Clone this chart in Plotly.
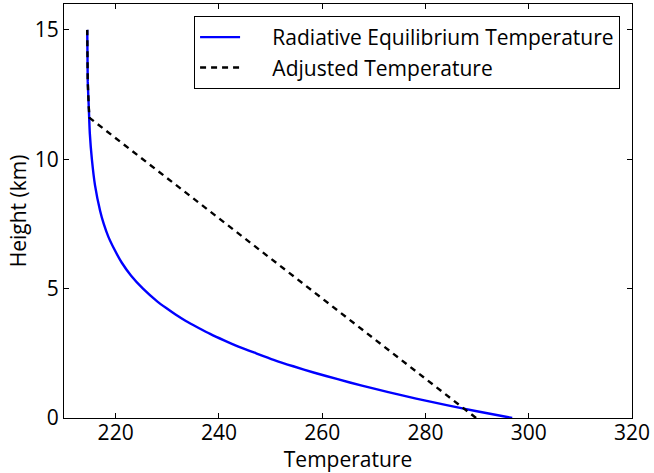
import plotly.graph_objects as go

# Radiative equilibrium profile
rad_height = [0, 0.25, 0.5, 0.75, 1.0, 1.25, 1.5, 1.75, 2.0, 2.25, 2.5, 2.75, 3.0, 3.25,
              3.5, 3.75, 4.0, 4.25, 4.5, 5.0, 5.5, 6.0, 6.5, 7.0, 7.5, 8.0, 9.0, 10.0,
              11.0, 12.0, 13.0, 14.0, 15.0]
rad_temp = [296.8, 290.2, 284.1, 278.2, 272.8, 267.7, 263.0, 258.5, 254.4, 250.6, 247.2,
            243.9, 241.0, 238.3, 235.9, 233.6, 231.6, 229.8, 228.1, 225.3, 223.0, 221.2,
            219.8, 218.6, 217.7, 217.0, 216.0, 215.4, 215.0, 214.8, 214.6, 214.55, 214.5]

# Adjusted (convective) profile
adj_height = [0, 11.6, 12.0, 13.0, 14.0, 15.0]
adj_temp = [289.8, 214.95, 214.8, 214.6, 214.55, 214.5]

x_ticks = [220, 240, 260, 280, 300, 320]
y_ticks = [0, 5, 10, 15]

series_names = ["Radiative Equilibrium Temperature", "Adjusted Temperature"]

FONT = "Open Sans"
FS = 21
PAD = "\u00a0" * 5

fig = go.Figure()
fig.add_trace(go.Scatter(x=rad_temp, y=rad_height, mode="lines",
                         name=PAD + series_names[0],
                         line=dict(color="#0000ff", width=2.4, shape="spline", smoothing=0.6),
                         legendgroup="a"))
fig.add_trace(go.Scatter(x=adj_temp, y=adj_height, mode="lines",
                         name=PAD + series_names[1],
                         line=dict(color="black", width=2.4, dash="6px,5px"), legendgroup="b"))

axis_common = dict(showline=True, linecolor="black", linewidth=1, mirror="ticks",
                   ticks="inside", ticklen=5, tickcolor="black", showgrid=False,
                   zeroline=False, tickfont=dict(family=FONT, size=FS, color="black"))

fig.update_layout(
    width=654, height=473,
    margin=dict(l=64, r=22, t=4, b=55),
    paper_bgcolor="white", plot_bgcolor="white",
    font=dict(family=FONT, color="black"),
    xaxis=dict(range=[210, 320], tickvals=x_ticks, ticktext=[str(v) for v in x_ticks],
               ticklabelstandoff=-4,
               title=dict(text="Temperature", font=dict(family=FONT, size=FS), standoff=4),
               **axis_common),
    yaxis=dict(range=[0, 16], tickvals=y_ticks, ticktext=[str(v) for v in y_ticks],
               title=dict(text="Height (km)", font=dict(family=FONT, size=FS), standoff=2),
               **axis_common),
    legend=dict(x=0.979, y=0.971, xanchor="right", yanchor="top",
                bordercolor="black", borderwidth=1, bgcolor="white",
                font=dict(family=FONT, size=FS), tracegroupgap=0, traceorder="grouped",
                itemwidth=40),
)

fig.write_html("out.html", config={"displayModeBar": False},
               post_script="document.body.style.margin='0';document.body.style.overflow='hidden';")
